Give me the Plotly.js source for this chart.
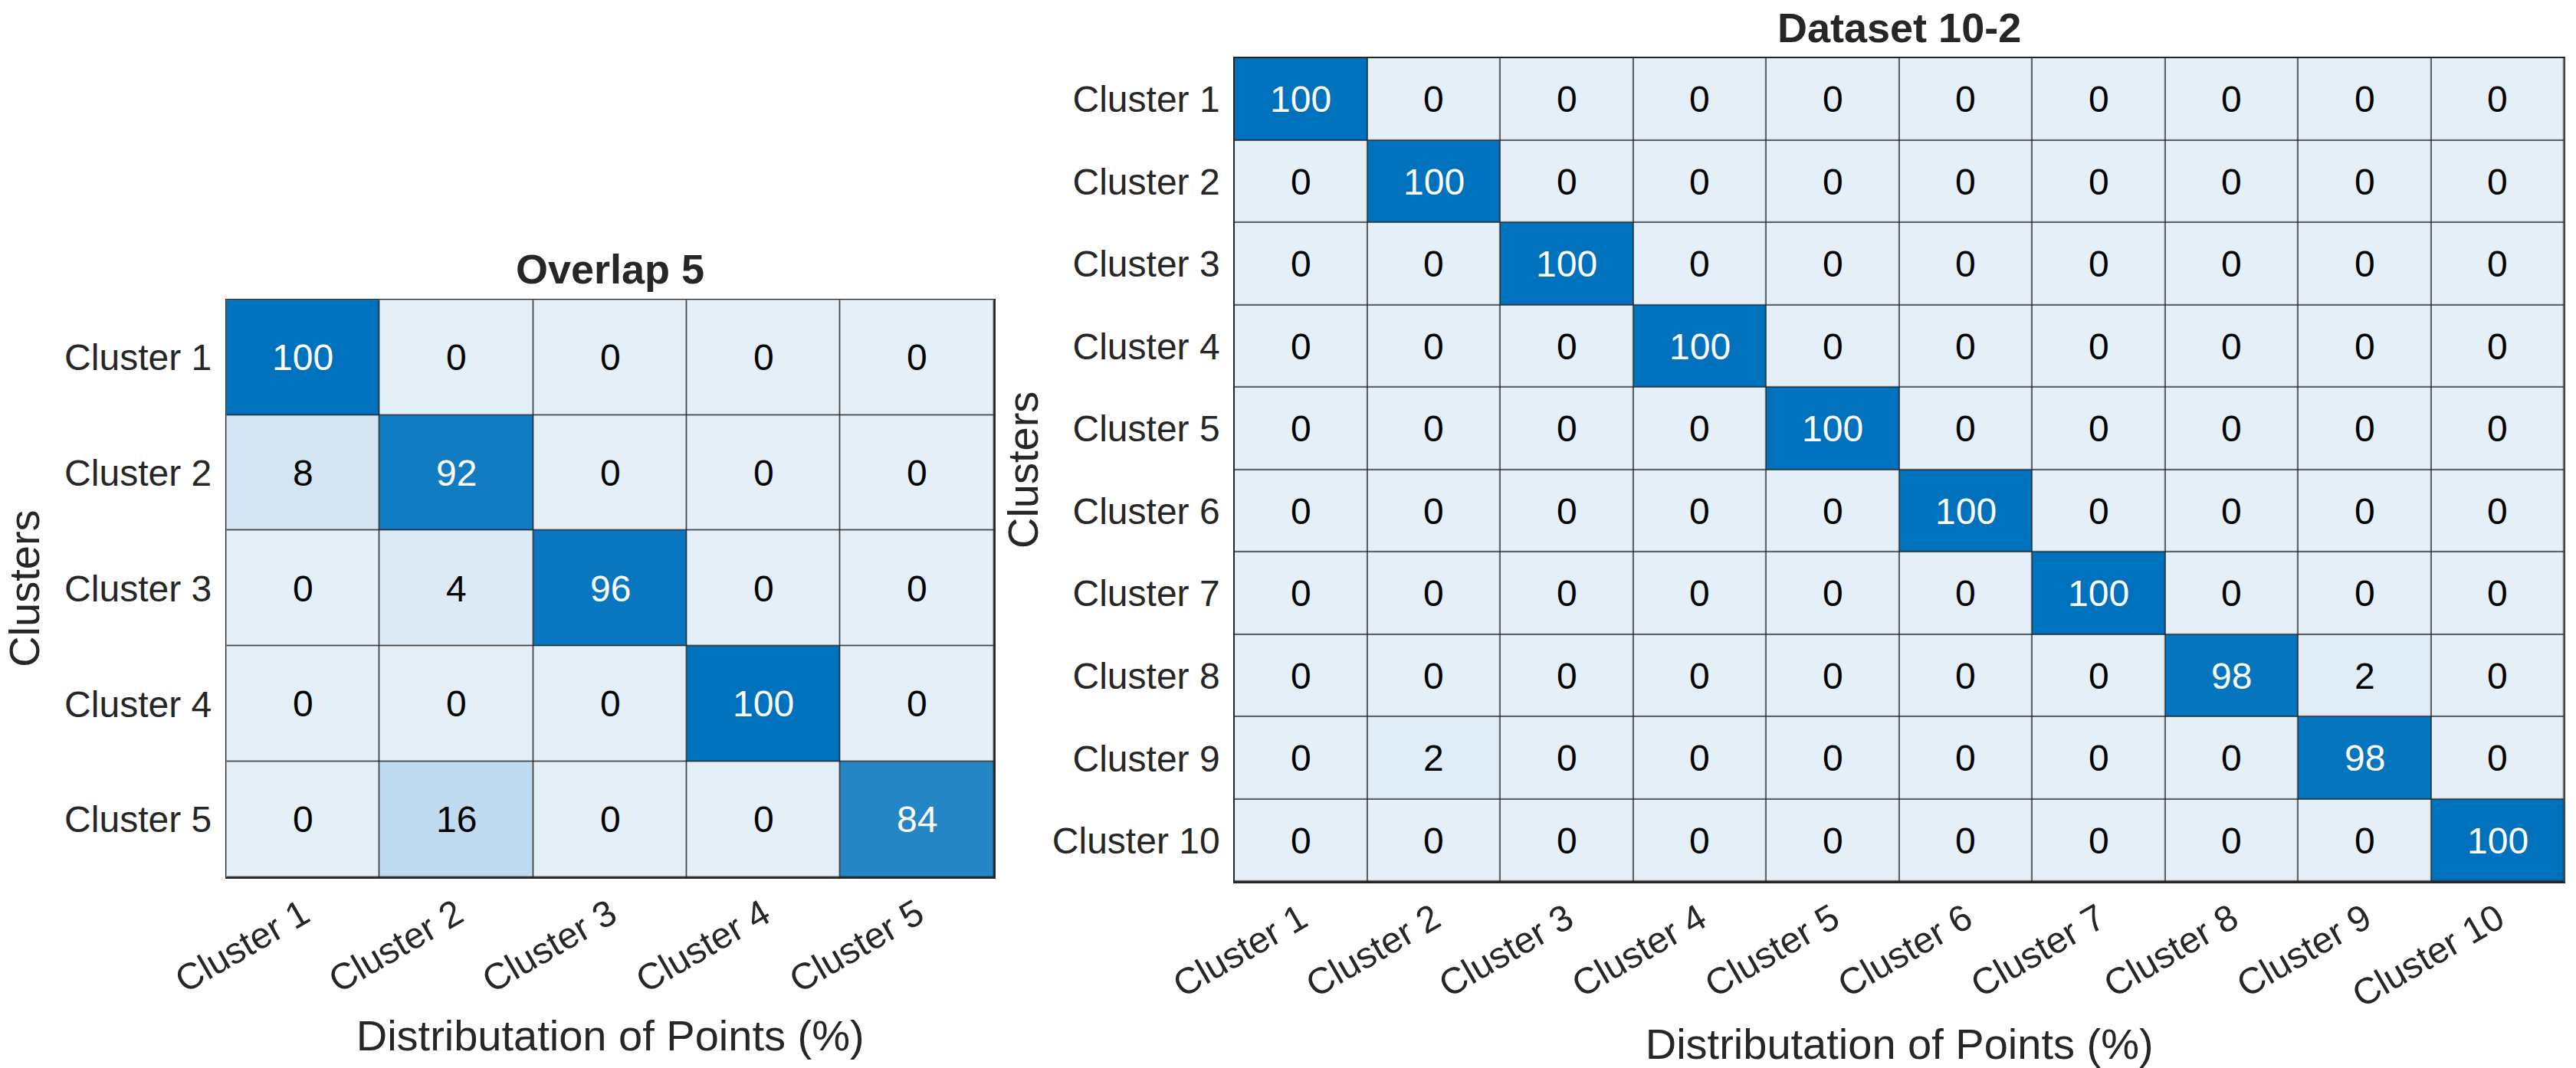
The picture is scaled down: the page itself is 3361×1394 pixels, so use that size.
<!DOCTYPE html>
<html>
<head>
<meta charset="utf-8">
<script src="https://cdn.plot.ly/plotly-3.0.1.min.js"></script>
<style>
  html, body { margin: 0; padding: 0; background: #ffffff; }
  #chart { width: 3361px; height: 1394px; }
</style>
</head>
<body>
<div id="chart"></div>
<script>
// ---- Data ----
const clusters5 = ['Cluster 1', 'Cluster 2', 'Cluster 3', 'Cluster 4', 'Cluster 5'];
const overlap5 = [
  [100, 0, 0, 0, 0],
  [8, 92, 0, 0, 0],
  [0, 4, 96, 0, 0],
  [0, 0, 0, 100, 0],
  [0, 16, 0, 0, 84]
];
const clusters10 = ['Cluster 1', 'Cluster 2', 'Cluster 3', 'Cluster 4', 'Cluster 5',
                    'Cluster 6', 'Cluster 7', 'Cluster 8', 'Cluster 9', 'Cluster 10'];
const dataset10 = [
  [100, 0, 0, 0, 0, 0, 0, 0, 0, 0],
  [0, 100, 0, 0, 0, 0, 0, 0, 0, 0],
  [0, 0, 100, 0, 0, 0, 0, 0, 0, 0],
  [0, 0, 0, 100, 0, 0, 0, 0, 0, 0],
  [0, 0, 0, 0, 100, 0, 0, 0, 0, 0],
  [0, 0, 0, 0, 0, 100, 0, 0, 0, 0],
  [0, 0, 0, 0, 0, 0, 100, 0, 0, 0],
  [0, 0, 0, 0, 0, 0, 0, 98, 2, 0],
  [0, 2, 0, 0, 0, 0, 0, 0, 98, 0],
  [0, 0, 0, 0, 0, 0, 0, 0, 0, 100]
];
const title5 = 'Overlap 5';
const title10 = 'Dataset 10-2';
const xTitle = 'Distributation of Points (%)';
const yTitle = 'Clusters';

// ---- Styling ----
const W = 3361, H = 1394;
const FONT = 'Liberation Sans, Arial, Helvetica, sans-serif';
const TXT = '#262626';
const GRID = '#262626';
const colorscale = [[0, 'rgb(229,239,248)'], [1, 'rgb(0,114,189)']];

function heat(z, labels, xa, ya) {
  return {
    type: 'heatmap', z: z, x: labels, y: labels,
    xaxis: xa, yaxis: ya,
    colorscale: colorscale, zmin: 0, zmax: 100,
    showscale: false, xgap: 1.5, ygap: 1.5,
    hoverinfo: 'skip'
  };
}

function cellText(z, labels, xa, ya) {
  const out = [];
  z.forEach((row, i) => row.forEach((v, j) => {
    out.push({
      xref: xa, yref: ya, x: labels[j], y: labels[i],
      text: String(v), showarrow: false,
      font: { family: FONT, size: 48, color: v > 50 ? '#ffffff' : '#000000' }
    });
  }));
  return out;
}

function xax(domain, anchor) {
  return {
    domain: domain, anchor: anchor, type: 'category',
    tickangle: -30, ticks: '', ticklen: 0,
    tickfont: { family: FONT, size: 48, color: TXT },
    showgrid: false, zeroline: false,
    showline: true, mirror: true, linecolor: GRID, linewidth: 1.5,
    title: { text: xTitle, font: { family: FONT, size: 56, color: TXT }, standoff: 27 },
    automargin: false, fixedrange: true
  };
}
function yax(domain, anchor, standoff) {
  return {
    domain: domain, anchor: anchor, type: 'category', autorange: 'reversed',
    ticks: 'outside', ticklen: 8, tickcolor: 'rgba(0,0,0,0)',
    tickfont: { family: FONT, size: 48, color: TXT },
    showgrid: false, zeroline: false,
    showline: true, mirror: true, linecolor: GRID, linewidth: 1.5,
    title: { text: yTitle, font: { family: FONT, size: 56, color: TXT }, standoff: standoff },
    automargin: false, fixedrange: true
  };
}

const xd1 = [295.3 / W, 1297 / W];
const yd1 = [1 - 1145 / H, 1 - 391.3 / H];
const xd2 = [1610.7 / W, 3345.7 / W];
const yd2 = [1 - 1151 / H, 1 - 75.7 / H];

const data = [
  heat(overlap5, clusters5, 'x', 'y'),
  heat(dataset10, clusters10, 'x2', 'y2')
];

const annotations = [].concat(
  cellText(overlap5, clusters5, 'x', 'y'),
  cellText(dataset10, clusters10, 'x2', 'y2'),
  [
    { xref: 'paper', yref: 'paper', x: (xd1[0] + xd1[1]) / 2, y: yd1[1],
      xanchor: 'center', yanchor: 'bottom', yshift: 8,
      text: '<b>' + title5 + '</b>', showarrow: false,
      font: { family: FONT, size: 54, color: TXT } },
    { xref: 'paper', yref: 'paper', x: (xd2[0] + xd2[1]) / 2, y: yd2[1],
      xanchor: 'center', yanchor: 'bottom', yshift: 8,
      text: '<b>' + title10 + '</b>', showarrow: false,
      font: { family: FONT, size: 54, color: TXT } }
  ]
);

const layout = {
  width: W, height: H,
  margin: { l: 0, r: 0, t: 0, b: 0, pad: 0 },
  paper_bgcolor: '#ffffff', plot_bgcolor: GRID,
  showlegend: false,
  xaxis: xax(xd1, 'y'), yaxis: yax(yd1, 'x', 32),
  xaxis2: xax(xd2, 'y2'), yaxis2: yax(yd2, 'x2', 0),
  annotations: annotations,
  font: { family: FONT, color: TXT }
};

Plotly.newPlot('chart', data, layout, { displayModeBar: false, staticPlot: true });
</script>
</body>
</html>
